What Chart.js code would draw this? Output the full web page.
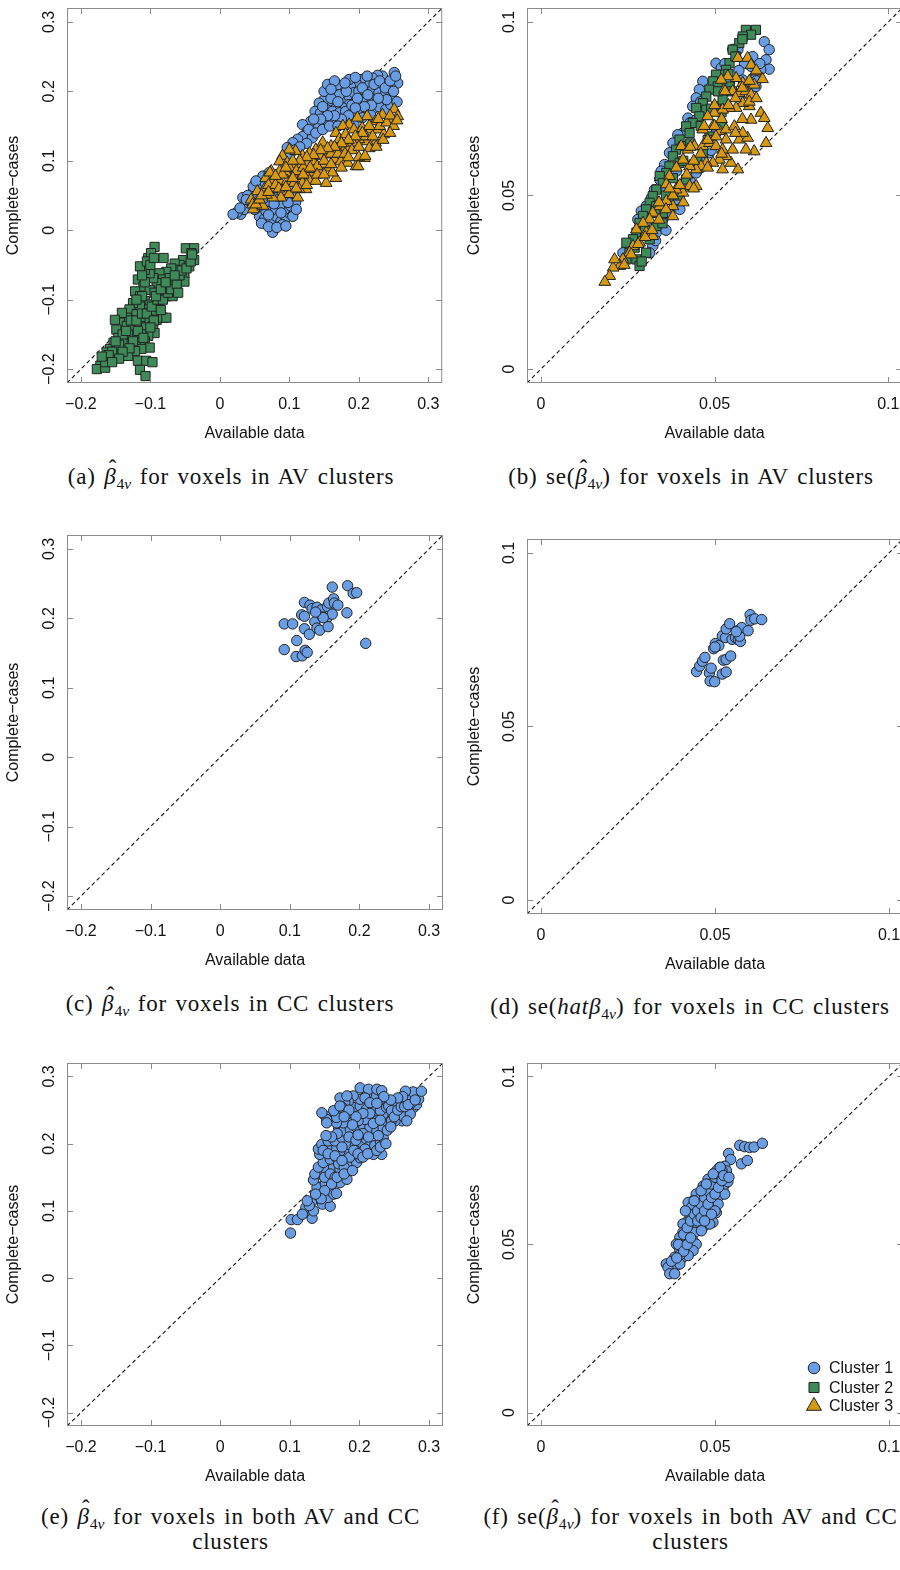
<!DOCTYPE html>
<html>
<head>
<meta charset="utf-8">
<script src="https://cdn.jsdelivr.net/npm/chart.js@4.4.1/dist/chart.umd.min.js"></script>
<style>
  html, body { margin: 0; padding: 0; background: #fff; }
  body { width: 900px; height: 1570px; position: relative; overflow: hidden; }
  .panel { position: absolute; overflow: hidden; }
  .cap {
    position: absolute; text-align: center; white-space: nowrap; color: #111;
    font-family: "Liberation Serif", "Times New Roman", serif; font-size: 23px;
    line-height: 25px; letter-spacing: 0.8px; word-spacing: 2px;
  }
  .cap sub { font-size: 68%; vertical-align: -0.3em; line-height: 0; letter-spacing: 0; }
  .hb { position: relative; display: inline-block; font-style: italic; }
  .hb .ht { position: absolute; left: 0.2em; top: -0.36em; font-style: normal; }
</style>
</head>
<body>

<div class="panel" style="left:0;top:0;width:450px;height:450px"><canvas id="pA" width="450" height="450"></canvas></div>
<div class="panel" style="left:450px;top:0;width:450px;height:450px"><canvas id="pB" width="460" height="450"></canvas></div>
<div class="panel" style="left:0;top:527px;width:450px;height:450px"><canvas id="pC" width="450" height="450"></canvas></div>
<div class="panel" style="left:450px;top:531px;width:450px;height:450px"><canvas id="pD" width="460" height="450"></canvas></div>
<div class="panel" style="left:0;top:1055px;width:450px;height:438px"><canvas id="pE" width="450" height="438"></canvas></div>
<div class="panel" style="left:450px;top:1055px;width:450px;height:438px"><canvas id="pF" width="460" height="438"></canvas></div>

<div class="cap" style="left:0;top:464px;width:462px">(a) <span class="hb">β<span class="ht">ˆ</span></span><sub>4<i>v</i></sub> for voxels in AV clusters</div>
<div class="cap" style="left:460px;top:464px;width:462px">(b) se(<span class="hb">β<span class="ht">ˆ</span></span><sub>4<i>v</i></sub>) for voxels in AV clusters</div>
<div class="cap" style="left:0;top:991px;width:460px">(c) <span class="hb">β<span class="ht">ˆ</span></span><sub>4<i>v</i></sub> for voxels in CC clusters</div>
<div class="cap" style="left:460px;top:994px;width:460px">(d) se(<i>hatβ</i><sub>4<i>v</i></sub>) for voxels in CC clusters</div>
<div class="cap" style="left:0;top:1504px;width:461px">(e) <span class="hb">β<span class="ht">ˆ</span></span><sub>4<i>v</i></sub> for voxels in both AV and CC<br>clusters</div>
<div class="cap" style="left:460px;top:1504px;width:461px">(f) se(<span class="hb">β<span class="ht">ˆ</span></span><sub>4<i>v</i></sub>) for voxels in both AV and CC<br>clusters</div>

<script>
// axis ranges and tick values
const betaRange = [-0.22, 0.32];
const seRange = [-0.004, 0.104];
const betaTicks = [-0.2, -0.1, 0, 0.1, 0.2, 0.3];
const seTicks = [0, 0.05, 0.1];
const clusterNames = ['Cluster 1', 'Cluster 2', 'Cluster 3'];

// (a) beta, voxels in AV clusters
const avBeta1 = [
  [0.251,0.227],[0.256,0.212],[0.246,0.205],[0.239,0.212],[0.234,0.222],[0.227,0.223],[0.220,0.219],[0.212,0.212],
  [0.203,0.217],[0.196,0.212],[0.188,0.207],[0.186,0.217],[0.177,0.205],[0.169,0.209],[0.160,0.200],[0.167,0.193],
  [0.177,0.188],[0.186,0.193],[0.193,0.198],[0.200,0.200],[0.210,0.198],[0.220,0.202],[0.229,0.198],[0.239,0.198],
  [0.246,0.190],[0.234,0.186],[0.224,0.188],[0.215,0.183],[0.205,0.188],[0.196,0.186],[0.186,0.181],[0.177,0.176],
  [0.167,0.181],[0.157,0.186],[0.150,0.188],[0.143,0.183],[0.137,0.171],[0.145,0.169],[0.153,0.174],[0.162,0.171],
  [0.172,0.169],[0.181,0.171],[0.191,0.169],[0.200,0.174],[0.210,0.176],[0.220,0.174],[0.229,0.178],[0.239,0.174],
  [0.246,0.181],[0.157,0.159],[0.148,0.157],[0.141,0.152],[0.131,0.157],[0.119,0.152],[0.126,0.143],[0.119,0.135],
  [0.112,0.131],[0.105,0.126],[0.097,0.119],[0.109,0.116],[0.133,0.133],[0.165,0.155],[0.181,0.157],[0.193,0.152],
  [0.205,0.162],[0.217,0.166],
  [0.150,0.200],[0.155,0.210],[0.165,0.215],[0.172,0.195],[0.182,0.200],[0.190,0.180],[0.198,0.190],[0.205,0.205],
  [0.213,0.195],[0.222,0.210],[0.230,0.215],[0.238,0.205],[0.245,0.215],[0.250,0.200],[0.240,0.188],[0.228,0.190],
  [0.218,0.180],[0.208,0.178],[0.195,0.176],[0.185,0.165],[0.175,0.160],[0.165,0.165],[0.155,0.165],[0.145,0.160],
  [0.135,0.160],[0.128,0.145],[0.138,0.140],[0.148,0.145],[0.158,0.150],[0.170,0.150],[0.160,0.190],[0.170,0.185],
  [0.255,0.185],[0.253,0.222],[0.212,0.222],[0.195,0.220],[0.180,0.212],[0.160,0.203],[0.148,0.178],[0.125,0.125],
  [0.115,0.120],[0.100,0.105],
  [0.033,0.047],[0.038,0.040],[0.030,0.023],[0.047,0.054],[0.052,0.068],[0.062,0.078],[0.071,0.083],[0.057,0.020],
  [0.064,0.016],[0.074,0.011],[0.081,0.020],[0.088,0.013],[0.095,0.018],[0.100,0.025],[0.093,0.030],[0.086,0.035],
  [0.076,0.030],[0.066,0.028],[0.057,0.035],[0.050,0.030],[0.076,-0.003],[0.090,0.008],[0.102,0.035],[0.105,0.049],
  [0.107,0.056],[0.100,0.064],[0.042,0.035],[0.069,0.042],[0.081,0.047],[0.109,0.040],
  [0.060,0.010],[0.070,0.005],[0.082,0.004],[0.095,0.006],[0.105,0.020],[0.110,0.030],[0.098,0.040],[0.088,0.025],
  [0.070,0.022],[0.062,0.045],[0.078,0.038],[0.092,0.050],[0.045,0.040],[0.035,0.030],[0.025,0.026],[0.040,0.050],
  [0.055,0.060],[0.065,0.068],[0.080,0.065],
  [0.019,0.023],[0.029,0.032],[0.038,0.044],[0.048,0.063],[0.052,0.071]
];
const avBeta2 = [
  [-0.049,-0.026],[-0.037,-0.026],[-0.041,-0.033],[-0.037,-0.043],[-0.046,-0.048],[-0.053,-0.043],[-0.058,-0.050],
  [-0.065,-0.048],[-0.044,-0.052],[-0.051,-0.062],[-0.063,-0.057],[-0.070,-0.055],[-0.077,-0.060],[-0.087,-0.062],
  [-0.082,-0.071],[-0.072,-0.069],[-0.060,-0.071],[-0.051,-0.074],[-0.068,-0.081],[-0.077,-0.083],[-0.087,-0.081],
  [-0.091,-0.076],[-0.096,-0.069],[-0.101,-0.062],[-0.108,-0.057],[-0.115,-0.052],[-0.118,-0.071],[-0.110,-0.081],
  [-0.101,-0.086],[-0.094,-0.090],[-0.087,-0.095],[-0.077,-0.095],[-0.068,-0.095],[-0.103,-0.040],[-0.094,-0.024],
  [-0.081,-0.040],[-0.099,-0.033],[-0.105,-0.045],[-0.122,-0.088],[-0.115,-0.095],[-0.108,-0.102],[-0.101,-0.107],
  [-0.091,-0.107],[-0.087,-0.114],[-0.096,-0.119],[-0.106,-0.114],[-0.115,-0.110],[-0.125,-0.105],[-0.130,-0.114],
  [-0.120,-0.121],[-0.110,-0.126],[-0.101,-0.129],[-0.091,-0.129],[-0.082,-0.126],[-0.077,-0.126],[-0.134,-0.126],
  [-0.141,-0.119],[-0.144,-0.133],[-0.134,-0.138],[-0.125,-0.140],[-0.115,-0.138],[-0.106,-0.140],[-0.096,-0.138],
  [-0.094,-0.148],[-0.103,-0.152],[-0.113,-0.150],[-0.122,-0.152],[-0.132,-0.150],[-0.149,-0.143],[-0.151,-0.129],
  [-0.146,-0.155],[-0.137,-0.162],[-0.127,-0.164],[-0.118,-0.162],[-0.108,-0.160],[-0.101,-0.169],[-0.113,-0.171],
  [-0.122,-0.174],[-0.153,-0.162],[-0.158,-0.171],[-0.149,-0.174],[-0.139,-0.176],[-0.163,-0.176],[-0.168,-0.186],
  [-0.158,-0.186],[-0.172,-0.195],[-0.177,-0.200],[-0.165,-0.198],[-0.153,-0.181],[-0.132,-0.181],[-0.118,-0.188],
  [-0.106,-0.188],[-0.115,-0.201],[-0.097,-0.190],[-0.107,-0.210],
  [-0.140,-0.150],[-0.145,-0.165],[-0.155,-0.175],[-0.160,-0.180],[-0.165,-0.190],[-0.170,-0.182],[-0.150,-0.160],
  [-0.135,-0.145],[-0.128,-0.130],[-0.120,-0.130],[-0.112,-0.120],[-0.105,-0.120],[-0.098,-0.110],[-0.090,-0.100],
  [-0.082,-0.100],[-0.075,-0.090],[-0.070,-0.085],[-0.062,-0.078],[-0.058,-0.065],[-0.055,-0.058],[-0.048,-0.055],
  [-0.042,-0.045],[-0.040,-0.035],[-0.118,-0.145],[-0.110,-0.155],[-0.125,-0.160],[-0.130,-0.170],[-0.140,-0.175],
  [-0.145,-0.185],[-0.155,-0.190],[-0.112,-0.095],[-0.120,-0.100],[-0.108,-0.075],[-0.112,-0.065],[-0.100,-0.050],
  [-0.095,-0.040],[-0.092,-0.095],[-0.085,-0.085],[-0.078,-0.075],[-0.065,-0.065],[-0.060,-0.090],[-0.085,-0.115],
  [-0.095,-0.130],[-0.100,-0.140]
];
const avBeta3 = [
  [0.251,0.174],[0.256,0.164],[0.244,0.159],[0.234,0.166],[0.224,0.157],[0.212,0.164],[0.198,0.162],[0.186,0.152],
  [0.177,0.150],[0.167,0.140],[0.172,0.131],[0.181,0.138],[0.193,0.145],[0.205,0.147],[0.217,0.145],[0.227,0.145],
  [0.236,0.138],[0.224,0.126],[0.212,0.128],[0.200,0.131],[0.191,0.126],[0.181,0.119],[0.169,0.116],[0.160,0.121],
  [0.148,0.126],[0.138,0.116],[0.129,0.111],[0.119,0.107],[0.109,0.114],[0.100,0.116],[0.090,0.107],[0.086,0.099],
  [0.097,0.097],[0.107,0.092],[0.117,0.095],[0.126,0.097],[0.136,0.099],[0.145,0.107],[0.155,0.109],[0.165,0.102],
  [0.174,0.099],[0.184,0.097],[0.196,0.092],[0.208,0.104],[0.157,0.090],[0.150,0.095],[0.143,0.087],[0.133,0.083],
  [0.124,0.080],[0.114,0.078],[0.105,0.080],[0.095,0.083],[0.086,0.085],[0.074,0.085],[0.066,0.075],[0.076,0.071],
  [0.086,0.071],[0.097,0.071],[0.107,0.068],[0.119,0.068],[0.129,0.071],[0.138,0.071],[0.153,0.068],[0.167,0.075],
  [0.162,0.083],[0.064,0.059],[0.054,0.056],[0.045,0.044],[0.047,0.037],[0.057,0.042],[0.069,0.054],[0.078,0.059],
  [0.090,0.056],[0.100,0.052],[0.112,0.047],[0.124,0.059],[0.114,0.059],[0.088,0.047],[0.076,0.047],[0.062,0.035],
  [0.048,0.030],[0.052,0.037],[0.057,0.044],[0.067,0.051],[0.072,0.083],
  [0.060,0.050],[0.070,0.065],[0.080,0.065],[0.090,0.080],[0.100,0.090],[0.110,0.085],[0.120,0.090],[0.130,0.088],
  [0.140,0.092],[0.150,0.100],[0.160,0.110],[0.170,0.110],[0.180,0.110],[0.190,0.115],[0.200,0.120],[0.210,0.135],
  [0.220,0.135],[0.230,0.150],[0.240,0.155],[0.250,0.150],[0.245,0.165],[0.228,0.160],[0.215,0.150],[0.205,0.140],
  [0.195,0.135],[0.185,0.130],[0.175,0.125],[0.165,0.120],[0.155,0.118],[0.145,0.115],[0.135,0.108],[0.125,0.105],
  [0.115,0.100],[0.105,0.100],[0.095,0.090],[0.080,0.078],[0.070,0.055],[0.085,0.060],[0.095,0.062],[0.110,0.060],
  [0.125,0.065],[0.140,0.080],[0.150,0.080],[0.160,0.095],[0.175,0.090],[0.185,0.105],[0.200,0.105],[0.215,0.118],
  [0.225,0.120],[0.235,0.130],[0.245,0.140],[0.255,0.158],[0.120,0.080],[0.130,0.090],[0.105,0.075],[0.199,0.092],
  [0.209,0.107]
];

// (b) se, voxels in AV clusters
const avSe1 = [
  [0.0643,0.0943],[0.0657,0.0920],[0.0648,0.0891],[0.0657,0.0864],[0.0633,0.0862],[0.0619,0.0843],[0.0605,0.0872],
  [0.0586,0.0881],[0.0567,0.0920],[0.0552,0.0921],[0.0504,0.0881],[0.0519,0.0867],[0.0466,0.0829],[0.0456,0.0805],
  [0.0447,0.0781],[0.0437,0.0757],[0.0423,0.0723],[0.0409,0.0680],[0.0394,0.0675],[0.0380,0.0651],[0.0370,0.0623],
  [0.0356,0.0589],[0.0346,0.0570],[0.0342,0.0546],[0.0327,0.0517],[0.0318,0.0493],[0.0303,0.0469],[0.0289,0.0455],
  [0.0279,0.0431],[0.0447,0.0718],[0.0485,0.0738],[0.0533,0.0757],[0.0571,0.0785],[0.0600,0.0805],[0.0619,0.0814],
  [0.0581,0.0833],[0.0543,0.0824],[0.0504,0.0680],[0.0485,0.0623],[0.0466,0.0603],[0.0447,0.0565],[0.0418,0.0527],
  [0.0389,0.0489],[0.0370,0.0450],[0.0351,0.0431],[0.0332,0.0393],[0.0322,0.0354],[0.0313,0.0335],[0.0275,0.0383],
  [0.0255,0.0354],[0.0236,0.0335],
  [0.0430,0.0710],[0.0460,0.0770],[0.0500,0.0830],[0.0530,0.0880],[0.0570,0.0860],[0.0610,0.0900],[0.0630,0.0880],
  [0.0620,0.0830],[0.0360,0.0520],[0.0390,0.0570],[0.0330,0.0480],[0.0300,0.0420],[0.0430,0.0540],[0.0460,0.0580],
  [0.0400,0.0460],[0.0360,0.0400],[0.0330,0.0370],[0.0490,0.0630]
];
const avSe2 = [
  [0.0590,0.0977],[0.0619,0.0977],[0.0605,0.0963],[0.0581,0.0958],[0.0571,0.0939],[0.0552,0.0920],[0.0562,0.0900],
  [0.0543,0.0881],[0.0533,0.0862],[0.0523,0.0848],[0.0504,0.0848],[0.0495,0.0829],[0.0509,0.0814],[0.0485,0.0805],
  [0.0476,0.0785],[0.0466,0.0766],[0.0447,0.0752],[0.0476,0.0747],[0.0456,0.0728],[0.0437,0.0709],[0.0418,0.0699],
  [0.0428,0.0680],[0.0399,0.0661],[0.0409,0.0642],[0.0389,0.0632],[0.0380,0.0613],[0.0399,0.0594],[0.0370,0.0584],
  [0.0361,0.0565],[0.0342,0.0556],[0.0351,0.0536],[0.0332,0.0517],[0.0322,0.0498],[0.0313,0.0479],[0.0332,0.0469],
  [0.0303,0.0460],[0.0294,0.0441],[0.0284,0.0421],[0.0275,0.0393],[0.0265,0.0374],[0.0246,0.0364],[0.0255,0.0335],
  [0.0275,0.0316],[0.0284,0.0297],[0.0246,0.0316],[0.0504,0.0757],[0.0523,0.0776],[0.0543,0.0814],[0.0519,0.0699],
  [0.0485,0.0670],[0.0466,0.0623],[0.0447,0.0584],[0.0418,0.0546],[0.0399,0.0508],[0.0370,0.0489],[0.0351,0.0450],
  [0.0332,0.0412],[0.0313,0.0374],[0.0303,0.0335],
  [0.0300,0.0400],[0.0330,0.0450],[0.0360,0.0500],[0.0380,0.0550],[0.0410,0.0600],[0.0430,0.0650],[0.0460,0.0700],
  [0.0490,0.0750],[0.0510,0.0800],[0.0540,0.0850],[0.0560,0.0900],[0.0580,0.0950],[0.0350,0.0420],[0.0400,0.0500],
  [0.0450,0.0600],[0.0480,0.0660],[0.0520,0.0740],[0.0550,0.0800],[0.0270,0.0350],[0.0290,0.0310]
];
const avSe3 = [
  [0.0567,0.0896],[0.0595,0.0896],[0.0605,0.0876],[0.0619,0.0857],[0.0638,0.0835],[0.0614,0.0819],[0.0581,0.0824],
  [0.0562,0.0838],[0.0538,0.0843],[0.0519,0.0833],[0.0528,0.0805],[0.0552,0.0800],[0.0571,0.0795],[0.0590,0.0800],
  [0.0605,0.0790],[0.0600,0.0757],[0.0581,0.0766],[0.0562,0.0752],[0.0543,0.0752],[0.0523,0.0747],[0.0499,0.0738],
  [0.0480,0.0728],[0.0466,0.0690],[0.0495,0.0699],[0.0514,0.0685],[0.0533,0.0690],[0.0557,0.0699],[0.0571,0.0661],
  [0.0595,0.0666],[0.0614,0.0627],[0.0590,0.0632],[0.0605,0.0718],[0.0633,0.0738],[0.0643,0.0723],[0.0653,0.0694],
  [0.0648,0.0651],[0.0567,0.0575],[0.0547,0.0594],[0.0533,0.0613],[0.0514,0.0603],[0.0495,0.0594],[0.0476,0.0594],
  [0.0461,0.0584],[0.0447,0.0575],[0.0428,0.0584],[0.0409,0.0603],[0.0404,0.0642],[0.0423,0.0632],[0.0442,0.0642],
  [0.0466,0.0642],[0.0485,0.0651],[0.0504,0.0642],[0.0523,0.0632],[0.0447,0.0527],[0.0428,0.0527],[0.0409,0.0508],
  [0.0389,0.0517],[0.0370,0.0556],[0.0361,0.0532],[0.0380,0.0469],[0.0361,0.0484],[0.0342,0.0469],[0.0322,0.0450],
  [0.0313,0.0431],[0.0294,0.0421],[0.0275,0.0402],[0.0303,0.0393],[0.0322,0.0383],[0.0284,0.0364],[0.0265,0.0354],
  [0.0255,0.0335],[0.0236,0.0316],[0.0227,0.0297],[0.0208,0.0292],[0.0198,0.0268],[0.0184,0.0251],[0.0212,0.0316],
  [0.0552,0.0632],[0.0581,0.0680],[0.0533,0.0661],[0.0504,0.0670],[0.0523,0.0575],
  [0.0240,0.0300],[0.0260,0.0330],[0.0280,0.0360],[0.0300,0.0380],[0.0320,0.0400],[0.0340,0.0430],[0.0360,0.0460],
  [0.0380,0.0500],[0.0400,0.0530],[0.0420,0.0560],[0.0440,0.0600],[0.0460,0.0620],[0.0480,0.0660],[0.0500,0.0700],
  [0.0520,0.0720],[0.0540,0.0760],[0.0560,0.0780],[0.0580,0.0810],[0.0600,0.0830],[0.0620,0.0860],[0.0340,0.0480],
  [0.0370,0.0520],[0.0390,0.0580],[0.0430,0.0640],[0.0470,0.0700],[0.0500,0.0760],[0.0530,0.0800],[0.0480,0.0580],
  [0.0440,0.0520],[0.0410,0.0480],[0.0380,0.0440],[0.0520,0.0620],[0.0560,0.0680],[0.0580,0.0720],[0.0600,0.0770],
  [0.0620,0.0780]
];

// (c) beta, voxels in CC clusters
const ccBeta1 = [
  [0.092,0.192],[0.104,0.192],[0.092,0.155],[0.109,0.145],[0.118,0.146],[0.122,0.154],[0.125,0.151],[0.110,0.168],
  [0.117,0.205],[0.121,0.203],[0.121,0.185],[0.128,0.177],[0.121,0.223],[0.129,0.219],[0.132,0.214],[0.139,0.216],
  [0.136,0.195],[0.139,0.186],[0.143,0.183],[0.145,0.212],[0.147,0.202],[0.153,0.200],[0.155,0.188],[0.154,0.217],
  [0.156,0.222],[0.161,0.245],[0.163,0.228],[0.164,0.222],[0.169,0.219],[0.161,0.206],[0.183,0.247],[0.182,0.208],
  [0.191,0.236],[0.196,0.237],[0.209,0.164],[0.148,0.201],[0.137,0.209]
];

// (d) se, voxels in CC clusters
const ccSe1 = [
  [0.0447,0.0658],[0.0456,0.0674],[0.0464,0.0688],[0.0471,0.0699],[0.0484,0.0654],[0.0489,0.0668],[0.0486,0.0631],
  [0.0499,0.0629],[0.0496,0.0724],[0.0501,0.0739],[0.0511,0.0733],[0.0500,0.0729],[0.0521,0.0651],[0.0532,0.0657],
  [0.0524,0.0691],[0.0532,0.0693],[0.0545,0.0703],[0.0521,0.0761],[0.0530,0.0756],[0.0532,0.0781],[0.0542,0.0796],
  [0.0549,0.0751],[0.0559,0.0756],[0.0565,0.0776],[0.0567,0.0750],[0.0573,0.0745],[0.0571,0.0760],[0.0577,0.0785],
  [0.0595,0.0776],[0.0601,0.0822],[0.0603,0.0806],[0.0614,0.0810],[0.0634,0.0808],[0.0561,0.0773]
];

// (e) beta, voxels in both AV and CC clusters
const bothBeta1 = [
  [0.101,0.067],[0.102,0.087],[0.111,0.087],[0.132,0.089],[0.121,0.098],[0.123,0.105],[0.131,0.113],[0.134,0.100],
  [0.141,0.123],[0.146,0.130],[0.147,0.110],[0.158,0.107],[0.155,0.120],[0.163,0.125],[0.167,0.126],[0.139,0.135],
  [0.151,0.140],[0.163,0.142],[0.172,0.142],[0.134,0.146],[0.143,0.155],[0.153,0.160],[0.163,0.165],[0.172,0.162],
  [0.182,0.147],[0.184,0.160],[0.136,0.155],[0.141,0.165],[0.148,0.172],[0.158,0.177],[0.167,0.179],[0.177,0.174],
  [0.187,0.170],[0.196,0.172],[0.201,0.179],[0.191,0.184],[0.182,0.187],[0.172,0.189],[0.163,0.192],[0.153,0.194],
  [0.143,0.184],[0.141,0.192],[0.146,0.199],[0.155,0.204],[0.165,0.204],[0.175,0.209],[0.184,0.199],[0.194,0.197],
  [0.203,0.202],[0.210,0.207],[0.215,0.197],[0.222,0.197],[0.230,0.204],[0.232,0.184],[0.220,0.184],[0.208,0.192],
  [0.170,0.224],[0.177,0.219],[0.187,0.221],[0.196,0.224],[0.206,0.226],[0.215,0.224],[0.225,0.219],[0.234,0.224],
  [0.239,0.234],[0.234,0.244],[0.225,0.244],[0.218,0.236],[0.208,0.236],[0.198,0.234],[0.187,0.234],[0.177,0.231],
  [0.167,0.231],[0.158,0.239],[0.170,0.246],[0.182,0.244],[0.191,0.254],[0.201,0.256],[0.210,0.251],[0.220,0.254],
  [0.230,0.249],[0.239,0.254],[0.249,0.251],[0.258,0.246],[0.268,0.249],[0.278,0.254],[0.282,0.258],[0.268,0.263],
  [0.258,0.261],[0.249,0.261],[0.239,0.263],[0.230,0.266],[0.220,0.268],[0.210,0.273],[0.201,0.266],[0.191,0.271],
  [0.184,0.263],[0.179,0.261],[0.175,0.254],[0.167,0.239],[0.163,0.249],[0.172,0.268],[0.182,0.271],[0.201,0.283],
  [0.213,0.281],[0.225,0.281],[0.232,0.279],[0.208,0.268],[0.215,0.261],[0.242,0.256],[0.254,0.256],[0.261,0.234],
  [0.251,0.234],[0.263,0.241],[0.273,0.244],[0.268,0.234],[0.275,0.261],[0.285,0.266],[0.274,0.266],[0.277,0.277],
  [0.266,0.278],[0.289,0.278],[0.151,0.241],[0.153,0.236],[0.146,0.246],[0.153,0.231],[0.172,0.256],[0.234,0.209],
  [0.227,0.212],[0.246,0.234],[0.246,0.249],[0.225,0.234],
  [0.150,0.150],[0.158,0.155],[0.165,0.150],[0.170,0.170],[0.178,0.165],[0.186,0.180],[0.192,0.190],[0.198,0.185],
  [0.205,0.180],[0.212,0.185],[0.225,0.190],[0.230,0.195],[0.238,0.200],[0.240,0.220],[0.245,0.225],[0.250,0.240],
  [0.255,0.250],[0.260,0.255],[0.265,0.255],[0.270,0.258],[0.280,0.265],[0.262,0.270],[0.255,0.268],[0.245,0.265],
  [0.235,0.270],[0.225,0.260],[0.215,0.245],[0.205,0.245],[0.195,0.240],[0.185,0.250],[0.178,0.240],[0.168,0.215],
  [0.160,0.210],[0.152,0.212],[0.148,0.190],[0.155,0.185],[0.165,0.182],[0.175,0.195],[0.185,0.210],[0.195,0.205],
  [0.205,0.215],[0.220,0.230],[0.230,0.235],[0.213,0.210],[0.198,0.213],[0.190,0.228],[0.175,0.175],[0.160,0.140],
  [0.150,0.130],[0.145,0.118],[0.137,0.125],[0.128,0.108],[0.118,0.095],[0.125,0.115],[0.168,0.150],[0.178,0.155],
  [0.190,0.160]
];

// (f) se, voxels in both AV and CC clusters
const bothSe1 = [
  [0.0571,0.0795],[0.0585,0.0791],[0.0599,0.0789],[0.0612,0.0790],[0.0636,0.0801],[0.0576,0.0740],[0.0593,0.0750],
  [0.0539,0.0771],[0.0545,0.0753],[0.0528,0.0733],[0.0513,0.0729],[0.0504,0.0719],[0.0518,0.0709],[0.0533,0.0719],
  [0.0494,0.0699],[0.0513,0.0694],[0.0533,0.0684],[0.0480,0.0694],[0.0466,0.0674],[0.0485,0.0679],[0.0504,0.0669],
  [0.0523,0.0664],[0.0537,0.0687],[0.0461,0.0659],[0.0480,0.0654],[0.0494,0.0650],[0.0513,0.0645],[0.0528,0.0650],
  [0.0446,0.0650],[0.0437,0.0630],[0.0423,0.0625],[0.0456,0.0635],[0.0475,0.0635],[0.0494,0.0625],[0.0509,0.0620],
  [0.0451,0.0615],[0.0432,0.0610],[0.0466,0.0605],[0.0485,0.0600],[0.0504,0.0595],[0.0427,0.0590],[0.0442,0.0580],
  [0.0456,0.0585],[0.0475,0.0576],[0.0494,0.0566],[0.0418,0.0566],[0.0408,0.0561],[0.0432,0.0556],[0.0451,0.0551],
  [0.0470,0.0556],[0.0485,0.0561],[0.0423,0.0541],[0.0442,0.0536],[0.0461,0.0541],[0.0408,0.0536],[0.0399,0.0521],
  [0.0418,0.0516],[0.0437,0.0511],[0.0389,0.0501],[0.0408,0.0497],[0.0427,0.0492],[0.0446,0.0501],[0.0399,0.0482],
  [0.0418,0.0477],[0.0437,0.0482],[0.0384,0.0462],[0.0403,0.0457],[0.0423,0.0467],[0.0370,0.0442],[0.0389,0.0437],
  [0.0360,0.0442],[0.0365,0.0432],[0.0370,0.0413],[0.0384,0.0413],[0.0399,0.0442],
  [0.0410,0.0530],[0.0420,0.0550],[0.0430,0.0570],[0.0440,0.0590],[0.0450,0.0600],[0.0460,0.0620],[0.0470,0.0640],
  [0.0480,0.0660],[0.0490,0.0680],[0.0500,0.0700],[0.0510,0.0710],[0.0520,0.0720],[0.0450,0.0570],[0.0460,0.0580],
  [0.0470,0.0600],[0.0480,0.0620],[0.0490,0.0640],[0.0500,0.0650],[0.0510,0.0670],[0.0520,0.0690],[0.0395,0.0500],
  [0.0400,0.0470],[0.0410,0.0480],[0.0420,0.0500],[0.0430,0.0520],[0.0375,0.0450],[0.0390,0.0460],[0.0415,0.0600],
  [0.0440,0.0630],[0.0460,0.0660],[0.0475,0.0680],[0.0495,0.0710],[0.0515,0.0730],[0.0525,0.0705],[0.0540,0.0700],
  [0.0500,0.0600],[0.0490,0.0590],[0.0470,0.0570]
];

const markers = [
  { pointStyle: 'circle',   radius: 5.2, bg: '#6a9ee4' },
  { pointStyle: 'rect',     radius: 6.5, bg: '#3e8a59' },
  { pointStyle: 'triangle', radius: 6.8, bg: '#d69910' }
];
const edge = '#222';
const frameGray = '#8a8a8a';
const textCol = '#111';

Chart.defaults.font.family = '"Liberation Sans", Arial, Helvetica, sans-serif';
Chart.defaults.color = textCol;

const fmt = v => v === 0 ? '0' : (v < 0 ? '\u2212' + Math.abs(v) : String(v));

// box and inward ticks on all four sides, like R's plot frame
const framePlugin = {
  id: 'frame',
  afterDraw(chart) {
    const { ctx, chartArea: a, scales: { x, y } } = chart;
    ctx.save();
    ctx.strokeStyle = frameGray;
    ctx.lineWidth = 1;
    ctx.strokeRect(a.left + 0.5, a.top + 0.5, a.right - a.left - 1, a.bottom - a.top - 1);
    ctx.beginPath();
    x.ticks.forEach(t => {
      const px = Math.round(x.getPixelForValue(t.value)) + 0.5;
      ctx.moveTo(px, a.bottom); ctx.lineTo(px, a.bottom - 6);
      ctx.moveTo(px, a.top); ctx.lineTo(px, a.top + 6);
    });
    y.ticks.forEach(t => {
      const py = Math.round(y.getPixelForValue(t.value)) + 0.5;
      ctx.moveTo(a.left, py); ctx.lineTo(a.left + 6, py);
      ctx.moveTo(a.right, py); ctx.lineTo(a.right - 6, py);
    });
    ctx.stroke();
    ctx.restore();
  }
};

function drawMarker(ctx, style, cx, cy, r) {
  ctx.beginPath();
  if (style === 'circle') {
    ctx.arc(cx, cy, r, 0, Math.PI * 2);
  } else if (style === 'rect') {
    ctx.rect(cx - r, cy - r, 2 * r, 2 * r);
  } else {
    ctx.moveTo(cx, cy - r);
    ctx.lineTo(cx + r * Math.sin(Math.PI * 2 / 3), cy + r / 2);
    ctx.lineTo(cx - r * Math.sin(Math.PI * 2 / 3), cy + r / 2);
    ctx.closePath();
  }
  ctx.fill();
  ctx.stroke();
}

// bottom-right legend without a box (panel f)
const legendPlugin = {
  id: 'clusterLegend',
  afterDraw(chart) {
    const { ctx, chartArea: a } = chart;
    const mx = a.right - 89;
    const rows = [a.bottom - 58, a.bottom - 38.5, a.bottom - 20];
    const sizes = [5.8, 5, 8.6];
    ctx.save();
    ctx.lineWidth = 1;
    ctx.strokeStyle = edge;
    ctx.font = '16px "Liberation Sans", Arial, sans-serif';
    ctx.textBaseline = 'middle';
    clusterNames.forEach((name, i) => {
      ctx.fillStyle = markers[i].bg;
      drawMarker(ctx, markers[i].pointStyle, mx, rows[i], sizes[i]);
      ctx.fillStyle = textCol;
      ctx.fillText(name, mx + 15, rows[i] + 1);
    });
    ctx.restore();
  }
};

function makePanel(id, o) {
  const datasets = [{
    data: o.range.map(v => ({ x: v, y: v })),
    showLine: true, pointRadius: 0, borderColor: '#111', borderWidth: 1.1,
    borderDash: [4, 3], order: 10
  }];
  o.series.forEach((pts, i) => {
    if (!pts) return;
    const m = markers[i];
    datasets.push({
      label: clusterNames[i],
      data: pts.map(p => ({ x: p[0], y: p[1] })),
      pointStyle: m.pointStyle, pointRadius: m.radius,
      backgroundColor: m.bg, borderColor: edge, borderWidth: 1,
      order: 3 - i
    });
  });
  new Chart(document.getElementById(id), {
    type: 'scatter',
    data: { datasets },
    options: {
      responsive: false, animation: false, events: [],
      layout: { padding: { top: 8, right: 7, left: 0, bottom: 0 } },
      plugins: { legend: { display: false }, tooltip: { enabled: false } },
      scales: {
        x: {
          type: 'linear', min: o.range[0], max: o.range[1],
          grid: { display: false, drawTicks: false }, border: { display: false },
          afterBuildTicks: s => { s.ticks = o.ticks.map(v => ({ value: v })); },
          afterFit: s => { s.height = 67; s.paddingLeft = 0; s.paddingRight = 0; },
          ticks: { autoSkip: false, maxRotation: 0, padding: 12, color: textCol, font: { size: 16 }, callback: fmt },
          title: { display: true, text: 'Available data', color: textCol, font: { size: 16 }, padding: { top: 0, bottom: 7 } }
        },
        y: {
          type: 'linear', min: o.range[0], max: o.range[1],
          grid: { display: false, drawTicks: false }, border: { display: false },
          afterBuildTicks: s => { s.ticks = o.ticks.map(v => ({ value: v })); },
          afterFit: s => { s.width = o.yw; s.paddingTop = 0; s.paddingBottom = 0; },
          ticks: { autoSkip: false, minRotation: 90, maxRotation: 90, crossAlign: 'center', padding: 2,
                   color: textCol, font: { size: 16 }, callback: fmt },
          title: { display: true, text: 'Complete\u2212cases', color: textCol, font: { size: 16 },
                   padding: { top: o.titlePad, bottom: 0 } }
        }
      }
    },
    plugins: o.legend ? [framePlugin, legendPlugin] : [framePlugin]
  });
}

makePanel('pA', { range: betaRange, ticks: betaTicks, yw: 67, titlePad: 4, series: [avBeta1, avBeta2, avBeta3] });
makePanel('pB', { range: seRange, ticks: seTicks, yw: 77, titlePad: 15, series: [avSe1, avSe2, avSe3] });
makePanel('pC', { range: betaRange, ticks: betaTicks, yw: 67, titlePad: 4, series: [ccBeta1] });
makePanel('pD', { range: seRange, ticks: seTicks, yw: 77, titlePad: 15, series: [ccSe1] });
makePanel('pE', { range: betaRange, ticks: betaTicks, yw: 67, titlePad: 4, series: [bothBeta1] });
makePanel('pF', { range: seRange, ticks: seTicks, yw: 77, titlePad: 15, series: [bothSe1], legend: true });
</script>
</body>
</html>
